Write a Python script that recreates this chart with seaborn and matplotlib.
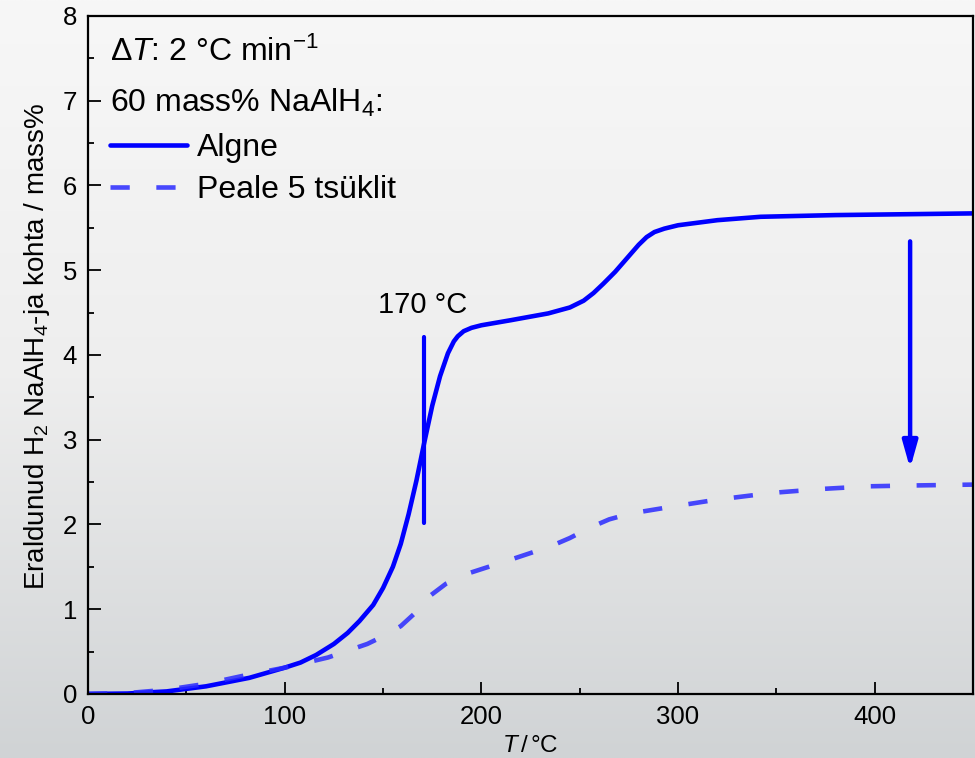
import numpy as np
import pandas as pd
import matplotlib
matplotlib.use("Agg")
import matplotlib.pyplot as plt
from matplotlib.ticker import MultipleLocator
import seaborn as sns

# temperature (degC) and released H2 (mass%)
t_algne = [0, 20, 40, 60, 82, 100, 108, 116, 125, 132, 138, 145, 150, 155, 159,
           163, 167, 171, 175, 179, 183, 186, 188, 191, 195, 200, 215, 234, 245,
           252, 257, 262, 268, 274, 280, 284, 288, 293, 300, 320, 342, 380, 450]
h2_algne = [0, 0.005, 0.03, 0.09, 0.19, 0.31, 0.37, 0.46, 0.59, 0.72, 0.86, 1.05,
            1.25, 1.5, 1.77, 2.12, 2.52, 2.97, 3.4, 3.75, 4.02, 4.16, 4.22, 4.28,
            4.32, 4.35, 4.41, 4.49, 4.56, 4.64, 4.73, 4.84, 4.98, 5.14, 5.3, 5.39,
            5.45, 5.49, 5.53, 5.59, 5.63, 5.65, 5.67]

t_cycled = [0, 20, 40, 60, 82, 100, 122, 142, 150, 159, 167, 174, 182, 193, 209,
            213, 235, 245, 255, 265, 276, 297, 319, 340, 352, 374, 397, 420, 450]
h2_cycled = [0, 0.01, 0.05, 0.12, 0.23, 0.31, 0.43, 0.59, 0.68, 0.80, 0.97, 1.16,
             1.3, 1.42, 1.54, 1.57, 1.74, 1.84, 1.96, 2.06, 2.13, 2.21, 2.29, 2.35,
             2.38, 2.42, 2.45, 2.46, 2.47]

labels = ["Algne", "Peale 5 tsüklit"]
onset_T = 171
onset_range = [2.02, 4.21]
arrow_T = 418
arrow_from, arrow_to = 5.34, 2.66

df = pd.concat([
    pd.DataFrame({"T": t_algne, "H2": h2_algne, "proov": labels[0]}),
    pd.DataFrame({"T": t_cycled, "H2": h2_cycled, "proov": labels[1]}),
])

sns.set_style("ticks")
plt.rcParams["font.family"] = ["Liberation Sans", "DejaVu Sans"]
plt.rcParams["mathtext.fontset"] = "custom"
plt.rcParams["mathtext.rm"] = "Liberation Sans"
plt.rcParams["mathtext.it"] = "Liberation Sans:italic"
plt.rcParams["mathtext.bf"] = "Liberation Sans:bold"
for k in ["text.color", "axes.labelcolor", "xtick.color", "ytick.color", "axes.edgecolor"]:
    plt.rcParams[k] = "black"

fig = plt.figure(figsize=(9.75, 7.58), dpi=100)

# grey gradient backdrop
bg = fig.add_axes([0, 0, 1, 1], zorder=-10)
grad = np.linspace(0, 1, 256)[:, None] * np.ones((1, 16))
bg.imshow(grad, aspect="auto", cmap=sns.blend_palette(["#f7f7f7", "#eeeeee", "#d0d3d5"], as_cmap=True),
          extent=[0, 1, 0, 1], origin="upper")
bg.axis("off")

ax = fig.add_axes([0.0903, 0.0845, 0.9077, 0.8945])
ax.patch.set_alpha(0)

sns.lineplot(data=df[df.proov == labels[0]], x="T", y="H2", ax=ax, color="#0000ff",
             lw=3.3, label=labels[0], estimator=None, sort=False)
sns.lineplot(data=df[df.proov == labels[1]], x="T", y="H2", ax=ax, color="#2a2aff",
             lw=3.3, alpha=0.85, label=labels[1], estimator=None, sort=False,
             dashes=False)
ax.lines[1].set_dashes([4.2, 5.8])

ax.plot([onset_T, onset_T], onset_range, color="#0000ff", lw=3)
ax.text(onset_T - 1, 4.59, "170 °C", fontsize=21, ha="center", va="center")
ax.annotate("", xy=(arrow_T, arrow_to), xytext=(arrow_T, arrow_from),
            arrowprops=dict(arrowstyle="-|>,head_length=1.6,head_width=0.45",
                            color="#0000ff", lw=3.2, shrinkA=0, shrinkB=0))

ax.set_xlim(0, 450)
ax.set_ylim(0, 8)
ax.xaxis.set_major_locator(MultipleLocator(100))
ax.xaxis.set_minor_locator(MultipleLocator(50))
ax.yaxis.set_major_locator(MultipleLocator(1))
ax.yaxis.set_minor_locator(MultipleLocator(0.5))
ax.tick_params(which="both", direction="in", width=1.3, labelsize=18.5, pad=8,
               top=False, right=False)
ax.tick_params(which="major", length=9)
ax.tick_params(which="minor", length=4.5)
for s in ax.spines.values():
    s.set_linewidth(1.6)
    s.set_visible(True)

ax.set_xlabel(r"$\mathit{T}\,/\,$°C", fontsize=17.5, labelpad=4)
ax.set_ylabel(r"Eraldunud H$_2$ NaAlH$_4$-ja kohta / mass%", fontsize=20)
ax.yaxis.set_label_coords(-0.041, 0.513)

ax.text(0.025, 0.947, r"$\Delta\mathit{T}$: 2 °C min$^{-1}$", transform=ax.transAxes,
        fontsize=23, va="center")
ax.text(0.025, 0.872, r"60 mass% NaAlH$_4$:", transform=ax.transAxes,
        fontsize=23, va="center")

leg = ax.legend(loc="upper left", bbox_to_anchor=(0.0, 0.86), frameon=False,
                fontsize=23, handlelength=2.4, handletextpad=0.3, labelspacing=0.36,
                borderaxespad=0.3)
leg.get_lines()[1].set_dashes([4.2, 5.8])

fig.savefig("out.png", dpi=100)
